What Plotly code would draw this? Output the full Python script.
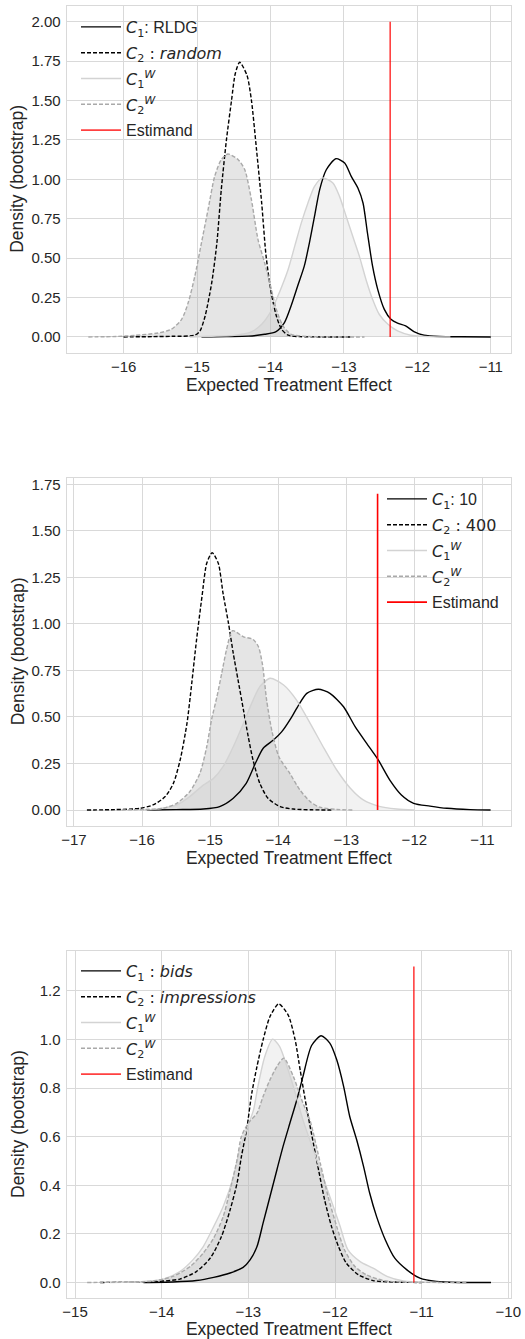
import plotly.graph_objects as go

# ---------------- data ----------------
# Panel 1
p1_c1_x = [-14.94, -14.60, -14.30, -14.08, -13.93, -13.81, -13.72, -13.63, -13.54, -13.47, -13.40, -13.33, -13.24, -13.11,
           -12.99, -12.90, -12.81, -12.74, -12.68, -12.61, -12.54, -12.45, -12.36, -12.27, -12.16, -12.04, -11.91, -11.70, -11.40, -11.00]
p1_c1_y = [0.000, 0.002, 0.005, 0.017, 0.032, 0.091, 0.196, 0.323, 0.449, 0.597, 0.766, 0.935, 1.061, 1.131,
           1.104, 1.019, 0.945, 0.850, 0.661, 0.449, 0.302, 0.175, 0.112, 0.087, 0.070, 0.032, 0.011, 0.003, 0.001, 0.000]
p1_c2_x = [-16.00, -15.60, -15.34, -15.03, -14.96, -14.89, -14.80, -14.73, -14.67, -14.60, -14.53, -14.48, -14.42,
           -14.32, -14.26, -14.19, -14.12, -14.06, -13.99, -13.92, -13.85, -13.76, -13.60, -13.30, -12.90]
p1_c2_y = [0.000, 0.002, 0.004, 0.011, 0.038, 0.133, 0.344, 0.597, 0.935, 1.250, 1.503, 1.670, 1.743,
           1.660, 1.503, 1.187, 0.850, 0.513, 0.281, 0.133, 0.049, 0.011, 0.002, 0.000, 0.000]
p1_c1w_x = [-15.10, -14.80, -14.49, -14.26, -14.12, -13.99, -13.88, -13.76, -13.67, -13.58, -13.49, -13.40, -13.29,
            -13.15, -13.06, -12.97, -12.88, -12.79, -12.70, -12.61, -12.52, -12.40, -12.27, -12.09, -11.85, -11.55]
p1_c1w_y = [0.000, 0.004, 0.010, 0.032, 0.080, 0.165, 0.281, 0.428, 0.576, 0.724, 0.850, 0.956, 1.009,
            0.977, 0.892, 0.766, 0.639, 0.513, 0.365, 0.239, 0.144, 0.080, 0.038, 0.011, 0.002, 0.000]
p1_c2w_x = [-16.48, -16.10, -15.84, -15.53, -15.35, -15.21, -15.12, -15.03, -14.94, -14.85, -14.76, -14.67, -14.58,
            -14.44, -14.35, -14.26, -14.17, -14.08, -14.01, -13.92, -13.83, -13.72, -13.49, -13.10, -12.72]
p1_c2w_y = [0.000, 0.003, 0.010, 0.025, 0.049, 0.112, 0.218, 0.386, 0.597, 0.808, 1.019, 1.125, 1.161,
            1.125, 1.061, 0.872, 0.618, 0.471, 0.344, 0.175, 0.070, 0.017, 0.003, 0.000, 0.000]

# Panel 2
p2_c1_x = [-15.93, -15.50, -15.10, -14.86, -14.66, -14.47, -14.33, -14.22, -14.07, -13.95, -13.80, -13.70, -13.58, -13.41,
           -13.24, -13.04, -12.87, -12.70, -12.53, -12.36, -12.19, -12.01, -11.77, -11.52, -11.18, -10.88]
p2_c1_y = [0.000, 0.002, 0.005, 0.018, 0.063, 0.143, 0.255, 0.332, 0.376, 0.420, 0.501, 0.564, 0.627, 0.649,
           0.627, 0.555, 0.448, 0.358, 0.269, 0.161, 0.081, 0.036, 0.021, 0.009, 0.002, 0.000]
p2_c2_x = [-16.81, -16.40, -16.03, -15.84, -15.66, -15.54, -15.44, -15.34, -15.27, -15.20, -15.12, -15.05, -14.97,
           -14.88, -14.81, -14.73, -14.66, -14.59, -14.51, -14.44, -14.37, -14.27, -14.15, -13.97, -13.78, -13.50, -13.19]
p2_c2_y = [0.000, 0.002, 0.009, 0.027, 0.072, 0.143, 0.269, 0.466, 0.681, 0.913, 1.146, 1.326, 1.383,
           1.326, 1.164, 1.003, 0.842, 0.699, 0.537, 0.394, 0.269, 0.143, 0.063, 0.018, 0.005, 0.001, 0.000]
p2_c1w_x = [-16.00, -15.79, -15.49, -15.30, -15.10, -14.95, -14.81, -14.66, -14.51, -14.39, -14.27, -14.12,
            -13.92, -13.73, -13.53, -13.34, -13.14, -12.94, -12.75, -12.53, -12.26, -12.00]
p2_c1w_y = [0.000, 0.005, 0.027, 0.072, 0.134, 0.170, 0.233, 0.340, 0.466, 0.573, 0.663, 0.708,
            0.672, 0.591, 0.466, 0.340, 0.215, 0.117, 0.054, 0.021, 0.005, 0.000]
p2_c2w_x = [-16.30, -15.95, -15.69, -15.49, -15.30, -15.15, -15.05, -14.98, -14.90, -14.83, -14.76, -14.67, -14.51,
            -14.37, -14.29, -14.23, -14.17, -14.09, -13.99, -13.83, -13.68, -13.53, -13.39, -13.14, -12.90]
p2_c2w_y = [0.000, 0.003, 0.009, 0.036, 0.098, 0.197, 0.340, 0.484, 0.609, 0.734, 0.860, 0.964, 0.931,
            0.917, 0.877, 0.780, 0.591, 0.420, 0.286, 0.197, 0.107, 0.045, 0.015, 0.003, 0.000]

# Panel 3
p3_c1_x = [-14.21, -13.87, -13.60, -13.40, -13.21, -13.06, -12.98, -12.90, -12.83, -12.75, -12.67, -12.60, -12.52, -12.44,
           -12.37, -12.27, -12.16, -12.06, -11.98, -11.90, -11.83, -11.75, -11.67, -11.60, -11.52, -11.42, -11.31, -11.17,
           -11.02, -10.83, -10.56, -10.20]
p3_c1_y = [0.000, 0.002, 0.008, 0.021, 0.039, 0.062, 0.093, 0.148, 0.244, 0.354, 0.464, 0.559, 0.656, 0.752,
           0.847, 0.975, 1.015, 0.985, 0.916, 0.806, 0.683, 0.587, 0.477, 0.368, 0.271, 0.176, 0.100, 0.052,
           0.018, 0.004, 0.000, 0.000]
p3_c2_x = [-14.71, -14.30, -14.06, -13.79, -13.60, -13.44, -13.31, -13.21, -13.13, -13.08, -13.02, -12.96, -12.90, -12.83,
           -12.75, -12.65, -12.54, -12.46, -12.40, -12.33, -12.27, -12.19, -12.12, -12.04, -11.96, -11.87, -11.73, -11.56,
           -11.33, -11.00]
p3_c2_y = [0.000, 0.002, 0.004, 0.014, 0.045, 0.100, 0.189, 0.299, 0.409, 0.518, 0.628, 0.779, 0.889, 0.998,
           1.094, 1.146, 1.100, 0.998, 0.870, 0.724, 0.610, 0.464, 0.340, 0.230, 0.148, 0.080, 0.032, 0.008,
           0.002, 0.000]
p3_c1w_x = [-14.60, -14.21, -13.98, -13.79, -13.64, -13.52, -13.40, -13.29, -13.17, -13.10, -13.02, -12.94, -12.89,
            -12.81, -12.72, -12.64, -12.56, -12.48, -12.37, -12.21, -12.06, -11.94, -11.85, -11.71, -11.56, -11.40,
            -11.21, -10.80]
p3_c1w_y = [0.000, 0.004, 0.014, 0.045, 0.093, 0.148, 0.230, 0.313, 0.436, 0.546, 0.628, 0.710, 0.806,
            0.930, 1.001, 0.971, 0.895, 0.806, 0.669, 0.505, 0.354, 0.230, 0.134, 0.086, 0.059, 0.025,
            0.006, 0.000]
p3_c2w_x = [-14.86, -14.40, -14.10, -13.87, -13.67, -13.52, -13.40, -13.29, -13.21, -13.13, -13.08, -13.00, -12.90,
            -12.83, -12.75, -12.67, -12.59, -12.48, -12.37, -12.29, -12.17, -12.08, -11.98, -11.89, -11.77, -11.64,
            -11.44, -11.21, -10.48]
p3_c2w_y = [0.000, 0.002, 0.006, 0.025, 0.066, 0.121, 0.183, 0.271, 0.381, 0.505, 0.601, 0.656, 0.697,
            0.765, 0.834, 0.889, 0.923, 0.847, 0.738, 0.669, 0.491, 0.354, 0.230, 0.134, 0.066, 0.032,
            0.008, 0.002, 0.000]

estimand_x = [-12.37, -12.54, -11.09]
estimand_top = [2.0, 1.7, 1.3]

MATH = '<span style="font-family:DejaVu Sans">'
labels = [
    [MATH + "<i>C</i><sub>1</sub></span>: RLDG",
     MATH + "<i>C</i><sub>2</sub> : <i>random</i></span>"],
    [MATH + "<i>C</i><sub>1</sub></span>: 10",
     MATH + "<i>C</i><sub>2</sub> : 400</span>"],
    [MATH + "<i>C</i><sub>1</sub> : <i>bids</i></span>",
     MATH + "<i>C</i><sub>2</sub> : <i>impressions</i></span>"],
]
lab_c1w = MATH + "<i>C</i><sub>1</sub><sup><i>W</i></sup></span>"
lab_c2w = MATH + "<i>C</i><sub>2</sub><sup><i>W</i></sup></span>"
lab_est = "Estimand"
x_title = "Expected Treatment Effect"
y_title = "Density (bootstrap)"

x_ranges = [[-16.775, -10.725], [-17.107, -10.58], [-15.096, -9.969]]
y_ranges = [[-0.1, 2.1], [-0.086, 1.786], [-0.065, 1.365]]
y_ticks = [[0, 0.25, 0.5, 0.75, 1.0, 1.25, 1.5, 1.75, 2.0],
           [0, 0.25, 0.5, 0.75, 1.0, 1.25, 1.5, 1.75],
           [0, 0.2, 0.4, 0.6, 0.8, 1.0, 1.2]]
y_fmt = [".2f", ".2f", ".1f"]
x_ticks = [[-16, -15, -14, -13, -12, -11],
           [-17, -16, -15, -14, -13, -12, -11],
           [-15, -14, -13, -12, -11, -10]]

# ---------------- figure ----------------
W, H = 525, 1339
panels_px = [(6, 352.7), (477.7, 826), (950.7, 1298.3)]   # (top, bottom)
legend_px = [(76, 10), (382, 482), (76, 954)]               # (left, top)
est_colors = ["rgba(255,0,0,0.75)", "red", "rgba(255,0,0,0.75)"]

data = [
    (p1_c1_x, p1_c1_y, p1_c2_x, p1_c2_y, p1_c1w_x, p1_c1w_y, p1_c2w_x, p1_c2w_y),
    (p2_c1_x, p2_c1_y, p2_c2_x, p2_c2_y, p2_c1w_x, p2_c1w_y, p2_c2w_x, p2_c2w_y),
    (p3_c1_x, p3_c1_y, p3_c2_x, p3_c2_y, p3_c1w_x, p3_c1w_y, p3_c2w_x, p3_c2w_y),
]

TXT = "#262626"
FONT = "Liberation Sans, Arial, sans-serif"
GRID = "#d9d9d9"
fig = go.Figure()
spl = dict(shape="spline", smoothing=0.7)
annotations = []

for i in range(3):
    xa = "x" if i == 0 else f"x{i+1}"
    ya = "y" if i == 0 else f"y{i+1}"
    lg = "legend" if i == 0 else f"legend{i+1}"
    c1x, c1y, c2x, c2y, c1wx, c1wy, c2wx, c2wy = data[i]
    # shaded areas
    fig.add_trace(go.Scatter(x=c1wx, y=c1wy, mode="lines", line=dict(width=0, **spl), fill="tozeroy",
                             fillcolor="rgba(211,211,211,0.30)", showlegend=False, hoverinfo="skip",
                             xaxis=xa, yaxis=ya))
    fig.add_trace(go.Scatter(x=c2wx, y=c2wy, mode="lines", line=dict(width=0, **spl), fill="tozeroy",
                             fillcolor="rgba(169,169,169,0.30)", showlegend=False, hoverinfo="skip",
                             xaxis=xa, yaxis=ya))
    # lines
    fig.add_trace(go.Scatter(x=c1x, y=c1y, mode="lines", name=labels[i][0], legend=lg, legendgroup=f"a{i}",
                             line=dict(color="black", width=1.4, **spl), xaxis=xa, yaxis=ya))
    fig.add_trace(go.Scatter(x=c2x, y=c2y, mode="lines", name=labels[i][1], legend=lg, legendgroup=f"b{i}",
                             line=dict(color="black", width=1.4, dash="4px,2px", **spl), xaxis=xa, yaxis=ya))
    fig.add_trace(go.Scatter(x=c1wx, y=c1wy, mode="lines", name=lab_c1w, legend=lg, legendgroup=f"c{i}",
                             line=dict(color="#d3d3d3", width=1.4, **spl), xaxis=xa, yaxis=ya))
    fig.add_trace(go.Scatter(x=c2wx, y=c2wy, mode="lines", name=lab_c2w, legend=lg, legendgroup=f"d{i}",
                             line=dict(color="#a9a9a9", width=1.4, dash="4px,2px", **spl), xaxis=xa, yaxis=ya))
    fig.add_trace(go.Scatter(x=[estimand_x[i], estimand_x[i]], y=[0, estimand_top[i]], mode="lines",
                             name=lab_est, legend=lg, legendgroup=f"e{i}", line=dict(color=est_colors[i], width=1.6),
                             xaxis=xa, yaxis=ya))

    top, bot = panels_px[i]
    axcommon = dict(showgrid=True, gridcolor=GRID, gridwidth=1, zeroline=False, showline=True,
                    linecolor=GRID, linewidth=1.2, mirror=True, ticks="", automargin=False,
                    tickfont=dict(size=15, color=TXT, family=FONT))
    fig.update_layout(**{
        ("xaxis" if i == 0 else f"xaxis{i+1}"): dict(
            domain=[66.7 / W, 511 / W], anchor=ya, range=x_ranges[i], tickmode="array",
            tickvals=x_ticks[i], title=dict(text=x_title, standoff=4,
                                            font=dict(size=17.5, color=TXT, family=FONT)),
            **axcommon),
        ("yaxis" if i == 0 else f"yaxis{i+1}"): dict(
            domain=[(H - bot) / H, (H - top) / H], anchor=xa, range=y_ranges[i], tickmode="array",
            tickvals=y_ticks[i], tickformat=y_fmt[i], ticklabelstandoff=2,
            **axcommon),
        lg: dict(x=legend_px[i][0] / W, y=(H - legend_px[i][1]) / H, xanchor="left", yanchor="top",
                 bgcolor="rgba(0,0,0,0)", borderwidth=0, itemwidth=40, tracegroupgap=2,
                 font=dict(size=16, color=TXT, family=FONT)),
    })
    annotations.append(dict(text=y_title, textangle=-90, xref="paper", yref="paper",
                            x=17.5 / W, y=(H - (top + bot) / 2) / H, xanchor="center", yanchor="middle",
                            showarrow=False, font=dict(size=17.5, color=TXT, family=FONT)))

fig.update_layout(width=W, height=H, margin=dict(l=0, r=0, t=0, b=0), annotations=annotations,
                  paper_bgcolor="white", plot_bgcolor="white", font=dict(family=FONT, color=TXT),
                  showlegend=True)
fig.write_html("out.html", config={"displayModeBar": False},
               post_script="document.body.style.margin='0px';")
